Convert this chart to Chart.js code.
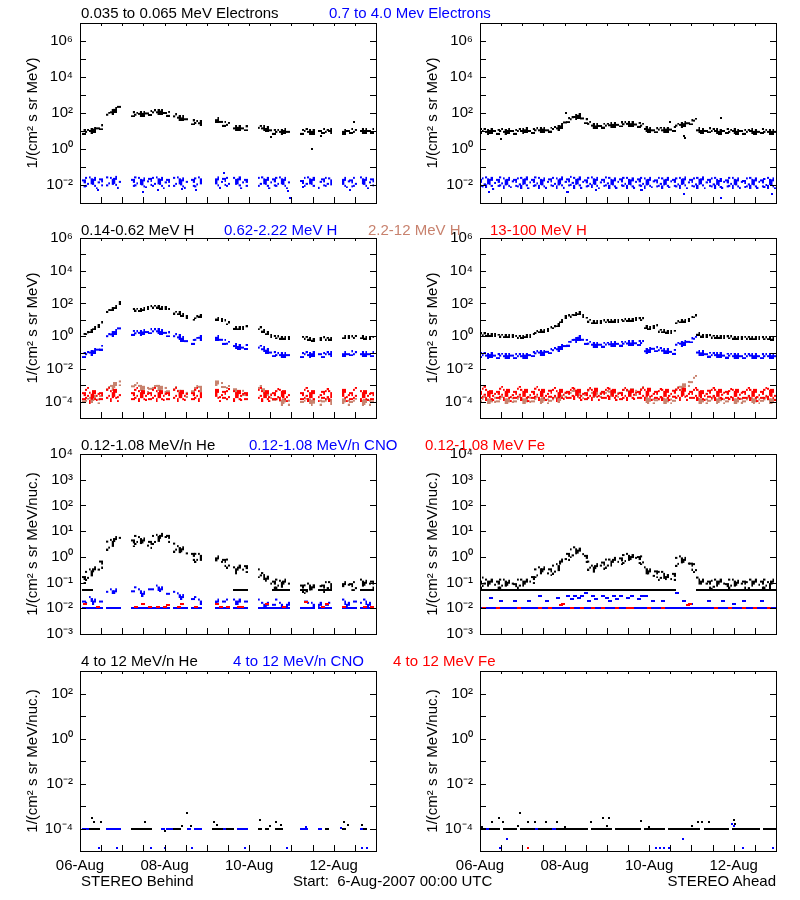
<!DOCTYPE html>
<html>
<head>
<meta charset="utf-8">
<script src="https://cdn.jsdelivr.net/npm/chart.js@4.4.1/dist/chart.umd.min.js"></script>
<style>
  body { margin: 0; background: #fff; }
  #page { position: relative; width: 800px; height: 900px; overflow: hidden; background: #fff; }
  canvas { position: absolute; }
  .lbl { position: absolute; font: 15px "Liberation Sans", Arial, sans-serif; line-height: 18px; white-space: pre; }
</style>
</head>
<body>
<div id="page">
  <canvas id="r0L" width="400" height="200" style="left:0;top:13px"></canvas>
  <canvas id="r0R" width="400" height="200" style="left:400px;top:13px"></canvas>
  <canvas id="r1L" width="400" height="200" style="left:0;top:228px"></canvas>
  <canvas id="r1R" width="400" height="200" style="left:400px;top:228px"></canvas>
  <canvas id="r2L" width="400" height="200" style="left:0;top:444px"></canvas>
  <canvas id="r2R" width="400" height="200" style="left:400px;top:444px"></canvas>
  <canvas id="r3L" width="400" height="225" style="left:0;top:661px"></canvas>
  <canvas id="r3R" width="400" height="225" style="left:400px;top:661px"></canvas>

  <div class="lbl" style="left:81px;top:4px;color:#000">0.035 to 0.065 MeV Electrons</div>
  <div class="lbl" style="left:329px;top:4px;color:#00f">0.7 to 4.0 Mev Electrons</div>
  <div class="lbl" style="left:81px;top:221px;color:#000">0.14-0.62 MeV H</div>
  <div class="lbl" style="left:224px;top:221px;color:#00f">0.62-2.22 MeV H</div>
  <div class="lbl" style="left:368px;top:221px;color:#c8826e">2.2-12 MeV H</div>
  <div class="lbl" style="left:490px;top:221px;color:#f00">13-100 MeV H</div>
  <div class="lbl" style="left:81px;top:436px;color:#000">0.12-1.08 MeV/n He</div>
  <div class="lbl" style="left:249px;top:436px;color:#00f">0.12-1.08 MeV/n CNO</div>
  <div class="lbl" style="left:425px;top:436px;color:#f00">0.12-1.08 MeV Fe</div>
  <div class="lbl" style="left:81px;top:652px;color:#000">4 to 12 MeV/n He</div>
  <div class="lbl" style="left:233px;top:652px;color:#00f">4 to 12 MeV/n CNO</div>
  <div class="lbl" style="left:393px;top:652px;color:#f00">4 to 12 MeV Fe</div>
  <div class="lbl" style="left:81px;top:872px;color:#000">STEREO Behind</div>
  <div class="lbl" style="left:293px;top:872px;color:#000">Start:  6-Aug-2007 00:00 UTC</div>
  <div class="lbl" style="right:24px;top:872px;color:#000">STEREO Ahead</div>
</div>
<script>
const _ = null;

// hours since 6-Aug-2007 00:00, 2 h steps
const HOURS = [0,2,4,6,8,10,12,14,16,18,20,22,24,26,28,30,32,34,36,38,40,42,44,46,48,50,52,54,56,58,60,62,64,66,68,70,72,74,76,78,80,82,84,86,88,90,92,94,96,98,100,102,104,106,108,110,112,114,116,118,120,122,124,126,128,130,132,134,136,138,140,142,144,146,148,150,152,154,156,158,160,162,164,166,168];
const X_TICKS = [0,12,24,36,48,60,72,84,96,108,120,132,144,156,168];
const X_LABELS = ['06-Aug','','','','08-Aug','','','','10-Aug','','','','12-Aug','',''];

const Y_TICKS_E = [1e-3,1e-2,1e-1,1,10,100,1e3,1e4,1e5,1e6,1e7];
const Y_TICKS_H = [1e-5,1e-4,1e-3,1e-2,1e-1,1,10,100,1e3,1e4,1e5,1e6];
const Y_TICKS_LO = [1e-3,1e-2,1e-1,1,10,100,1e3,1e4];
const Y_TICKS_HI = [1e-5,1e-4,1e-3,1e-2,1e-1,1,10,100,1e3];

// ---- electrons, STEREO Behind (data gaps as null)
const E_B_LO = [
  _, 9,9,10,12,14,16, _,
  80,110,150,220, _,_,_,
  85,80,90,90,95,100,110,110,120,100,90, _,
  65,55,50,45, _,
  30,28,27, _,_,_,_,
  40,32,25,22, _,
  14,15,14,14, _,_,_,
  15,14,13,11,
  9,9,9,10,9, _,_,_,
  9,10,9,9, _,
  10,10,9,10, _,_,_,
  9,10,10,9, _,
  10,10,10,10, _];
const E_B_HI = [
  _, .014,.015,.016,.015,.014,.016, _,
  .016,.015,.017,.015, _,_,_,
  .015,.016,.015,.014,.016,.017,.015,.016,.015,.014,.015, _,
  .015,.016,.014,.015, _,
  .015,.014,.016, _,_,_,_,
  .016,.015,.017,.015, _,
  .015,.016,.014,.015, _,_,_,
  .015,.016,.015,.014,
  .016,.015,.016,.015,.014, _,_,_,
  .013,.015,.016,.015, _,
  .015,.016,.015,.014, _,_,_,
  .015,.016,.014,.015, _,
  .016,.015,.014,.016, _];
const E_B_LO_OUT = [[108.6,4.5],[131.5,1],[137,5],[155.5,33]];
const E_B_HI_OUT = [[10,0.005],[36,0.004],[44,0.005],[58,0.006],[66,0.005],[82,0.045],[118,0.0045],[119,0.002],[153,0.005]];

// ---- electrons, STEREO Ahead
const E_A_LO = [10,10,9,10,10,9, 10,9,10,10,9,10, 10,11,10,10,11,11, 12,11,12,13,14,18, 30,40,45,60,70,50,
  35,25,20,18,19,20, 20,21,22,22,23,24, 25,24,23,22,20,13, 12,11,11,12,11,12, 12,13,20,22,24,27,
  30,38,11,10,10,11, 10,10,9,10,10,9, 10,9,10,9,9,10, 9,9,10,9,9,9, 9];
const E_A_HI = [.015,.014,.016,.015,.013,.015, .016,.014,.015,.016,.015,.014, .015,.016,.014,.015,.016,.015,
  .014,.015,.016,.015,.014,.016, .015,.016,.017,.015,.016,.015, .014,.015,.016,.015,.014,.015,
  .016,.015,.014,.015,.016,.015, .015,.014,.015,.016,.015,.014, .015,.016,.014,.015,.014,.015,
  .016,.015,.014,.015,.016,.014, .015,.014,.015,.016,.014,.015, .014,.015,.013,.015,.014,.015,
  .015,.014,.015,.013,.014,.015, .014,.015,.014,.013,.015,.014, .014];
const E_A_LO_OUT = [[11.8,3.5],[48.6,95],[108,32],[115.8,5],[116.2,4],[136.8,50]];
const E_A_HI_OUT = [[5,0.004],[49.3,0.004],[50,0.004],[66,0.005],[91.5,0.005],[92,0.005],[116,0.003],[136.8,0.002],[165.8,0.003]];

// ---- protons, STEREO Behind
const H_B_1 = [
  _, 1.2,1.5,2,3,4,6, _,
  35,45,60,100, _,_,_,
  40,42,40,45,50,60,65,65,55,50,40, _,
  28,25,20,15, _,
  9,14,18, _,_,_,_,
  12,10,8,6, _,
  3.2,3,3,3.5, _,_,_,
  3,2.2,1.5,1.1,
  .9,.85,.8,.8,.8, _,_,_,
  .8,.8,.7,.6, _,
  .7,.75,.7,.7, _,_,_,
  .85,.9,.85,.9, _,
  .85,.8,.8,.8, _];
const H_B_2 = [
  _, .07,.08,.1,.12,.15,.2, _,
  1,1.3,1.8,3, _,_,_,
  1.6,1.5,1.6,1.7,1.8,2,2,2,1.8,1.6,1.3, _,
  1,.85,.7,.5, _,
  .45,.6,.8, _,_,_,_,
  .8,.6,.45,.35, _,
  .25,.22,.2,.22, _,_,_,
  .2,.16,.13,.1,
  .08,.07,.07,.07,.07, _,_,_,
  .07,.08,.07,.08, _,
  .08,.07,.08,.08, _,_,_,
  .08,.08,.09,.08, _,
  .08,.08,.08,.08, _];
const H_B_3 = [
  _, 1.2e-4,1e-4,1.5e-4,2e-4,1.2e-4,2.5e-4, _,
  5e-4,8e-4,1.2e-3,1.5e-3, _,_,_,
  1e-3,9e-4,8e-4,7e-4,6e-4,7e-4,6e-4,8e-4,7e-4,6e-4,5e-4, _,
  5e-4,4e-4,4e-4,3e-4, _,
  5e-4,6e-4,7e-4, _,_,_,_,
  1.5e-3,1.2e-3,9e-4,6e-4, _,
  5e-4,4e-4,4e-4,3e-4, _,_,_,
  6e-4,5e-4,3e-4,2.5e-4,
  1.5e-4,1.2e-4,1e-4,1.2e-4,1e-4, _,_,_,
  1.1e-4,1e-4,1.2e-4,1e-4, _,
  1e-4,1.2e-4,1e-4,1.1e-4, _,_,_,
  1.2e-4,1e-4,1.1e-4,1e-4, _,
  1e-4,1.1e-4,1e-4,1.2e-4, _];
const H_B_4 = [
  _, 2.5e-4,3e-4,2e-4,2.5e-4,3e-4,2.5e-4, _,
  3e-4,2.5e-4,3e-4,2.5e-4, _,_,_,
  2.5e-4,3e-4,2.5e-4,2.5e-4,3e-4,2.5e-4,3e-4,2.5e-4,2.5e-4,3e-4,2.5e-4, _,
  3e-4,2.5e-4,2.5e-4,3e-4, _,
  2.5e-4,3e-4,2.5e-4, _,_,_,_,
  3e-4,2.5e-4,3e-4,2.5e-4, _,
  2.5e-4,2.5e-4,3e-4,2.5e-4, _,_,_,
  3e-4,2.5e-4,2.5e-4,2.5e-4,
  2.5e-4,2.5e-4,3e-4,2.5e-4,2.5e-4, _,_,_,
  2.5e-4,3e-4,2.5e-4,2.5e-4, _,
  2.5e-4,3e-4,2.5e-4,2.5e-4, _,_,_,
  3e-4,2.5e-4,2.5e-4,3e-4, _,
  2.5e-4,2.5e-4,3e-4,2.5e-4, _];

// ---- protons, STEREO Ahead
const H_A_1 = [1.3,1.3,1.2,1.2,1.2,1.1, 1.1,1.0,1.0,1.1,.9,.9, .9,1.0,1.1,1.2,1.8,2, 2.2,2.5,3,3.5,4.5,8,
  14,16,18,22,25,18, 12,9,7,7,7.5,8, 8,8.5,9,9,9,9.5, 10,10,10.5,11,11,3.5, 3,3.5,4,2.2,2,1.9,
  1.9,1.9,7,8,9,10, 13,16,1.4,1.1,1.0,1.0, .95,.9,.9,.9,.85,.85, .8,.8,.8,.8,.8,.8, .75,.75,.75,.75,.75,.7, .7];
const H_A_2 = [.07,.07,.065,.07,.065,.06, .065,.06,.06,.065,.06,.06, .06,.065,.07,.08,.09,.1, .1,.11,.12,.14,.16,.22,
  .25,.35,.45,.6,.8,.6, .45,.35,.3,.3,.3,.3, .31,.32,.33,.34,.35,.35, .36,.36,.37,.38,.38,.12,
  .14,.17,.16,.14,.13,.12, .11,.11,.3,.35,.4,.45, .55,.7,.1,.09,.08,.075, .07,.07,.07,.065,.065,.065,
  .06,.065,.06,.06,.06,.065, .06,.06,.06,.06,.06,.06, .06];
const H_A_3 = [1.2e-4,1.3e-4,1.2e-4,1.2e-4,1.5e-4,1.2e-4, 1.3e-4,1.2e-4,1.2e-4,1.4e-4,1.2e-4,1.3e-4,
  1.2e-4,1.2e-4,1.5e-4,1.2e-4,1.3e-4,1.2e-4, 1.4e-4,1.2e-4,1.3e-4,1.2e-4,1.5e-4,2e-4,
  3e-4,4e-4,3e-4,4e-4,3e-4,2.5e-4, 3e-4,4e-4,3e-4,3.5e-4,3e-4,4e-4, 3e-4,3.5e-4,4e-4,3e-4,4e-4,4.5e-4,
  4e-4,5e-4,4e-4,4.5e-4,5e-4,1.5e-4, 1.3e-4,1.2e-4,1.4e-4,1.2e-4,1.3e-4,1.2e-4,
  1.2e-4,1.3e-4,5e-4,7e-4,1e-3,1.4e-3, 1.8e-3,2.5e-3,1.3e-4,1.2e-4,1.2e-4,1.3e-4,
  1.2e-4,1.2e-4,1.4e-4,1.2e-4,1.2e-4,1.3e-4, 1.2e-4,1.2e-4,1.3e-4,1.2e-4,1.2e-4,1.4e-4,
  1.2e-4,1.2e-4,1.3e-4,1.2e-4,1.2e-4,1.2e-4, 1.2e-4];
const H_A_4 = [3e-4,3.5e-4,3e-4,2.5e-4,3e-4,3e-4, 3.5e-4,3e-4,3e-4,2.5e-4,3e-4,3.5e-4, 3e-4,3e-4,2.5e-4,3e-4,3.5e-4,3e-4,
  3e-4,3e-4,3.5e-4,3e-4,2.5e-4,3e-4, 3.5e-4,3e-4,3e-4,3.5e-4,3e-4,3e-4, 2.5e-4,3e-4,3e-4,3.5e-4,3e-4,3e-4,
  3e-4,3.5e-4,3e-4,3e-4,2.5e-4,3e-4, 3e-4,3e-4,3.5e-4,3e-4,3e-4,3e-4, 3.5e-4,3e-4,3e-4,2.5e-4,3e-4,3e-4,
  3e-4,3.5e-4,3e-4,3e-4,3.5e-4,3e-4, 3e-4,3e-4,3e-4,2.5e-4,3e-4,3.5e-4, 3e-4,3e-4,3e-4,3.5e-4,3e-4,2.5e-4,
  3e-4,3e-4,3.5e-4,3e-4,3e-4,3e-4, 3e-4,2.5e-4,3e-4,3e-4,3.5e-4,3e-4, 3e-4];

// ---- 0.12-1.08 MeV/n heavy ions, STEREO Behind
const HE_B = [
  _, .15,.2,.25,.3,.35,.6, _,
  3,3.5,4.5,6, _,_,_,
  4,5,4.5,4,3,3.5,5,5.5,6,6.5,6, _,
  2.5,2,1.8,1.5, _,
  1.2,1,1, _,_,_,_,
  .8,.7,.7,.6, _,
  .3,.35,.35,.4, _,_,_,
  .25,.18,.13,.1,
  .1,.1,.09,.1,.1, _,_,_,
  .07,.06,.07,.06, _,
  .08,.07,.08,.08, _,_,_,
  .08,.09,.08,.08, _,
  .1,.09,.1,.1, _];
const HE_B_FLOOR = [
  _, .05,.05,.05,_,_,_, _,
  _,_,_,_, _,_,_,
  _,_,_,_,_,_,_,_,_,_,_, _,
  _,_,_,_, _,
  _,_,_, _,_,_,_,
  _,_,_,_, _,
  .05,.05,.05,.05, _,_,_,
  _,_,_,_,
  .05,.05,.05,.05,.05, _,_,_,
  .05,.05,_,_, _,
  .05,.05,.05,.05, _,_,_,
  _,_,_,_, _,
  .05,.05,.05,.05, _];
const CNO_B = [
  _, .02,.015,.025,.02,.03,.02, _,
  .04,.05,.05,.06, _,_,_,
  .05,.06,.05,.04,.05,.06,.05,.07,.06,.05,.04, _,
  .04,.035,.03,.035, _,
  .025,.025,.02, _,_,_,_,
  .02,.025,.02,.02, _,
  .02,.02,.025,.02, _,_,_,
  .02,.015,.015,.02,
  .015,.02,.015,_,.015, _,_,_,
  .015,.02,.015,.015, _,
  .015,.02,.015,.015, _,_,_,
  .02,.015,.015,.02, _,
  .015,.02,.015,.015, _];
const CNO_B_FLOOR = [
  _, .01,.01,.01,.01,.01,.01, _,
  .01,.01,.01,.01, _,_,_,
  .01,.01,.01,.01,.01,.01,.01,.01,.01,.01,.01, _,
  .01,.01,.01,.01, _,
  .01,.01,.01, _,_,_,_,
  .01,.01,.01,.01, _,
  .01,.01,.01,.01, _,_,_,
  .01,.01,.01,.01,
  .01,.01,.01,.01,.01, _,_,_,
  .01,.01,.01,.01, _,
  .01,.01,.01,.01, _,_,_,
  .01,.01,.01,.01, _,
  .01,.01,.01,.01, _];
const FE_B = [[3,0.015],[10,0.011],[32,0.011],[36,0.015],[40,0.011],[44,0.011],[48,0.011],[50,0.013],[56,0.011],[58,0.015],
  [66,0.011],[78,0.015],[80,0.011],[84,0.011],[90,0.011],[92,0.011],[106,0.015],[116,0.011],[128,0.018],[138,0.011],
  [140,0.015],[150,0.011],[162,0.011],[166,0.011]];

// ---- 0.12-1.08 MeV/n heavy ions, STEREO Ahead
const HE_A = [.1,.12,.1,.1,.09,.1, .1,.1,.09,.1,.08,.1, .1,.1,.12,.15,.25,.3, .3,.25,.3,.35,.4,.6,
  .9,1.2,1.5,1.8,1.6,1.4, 1,.5,.35,.4,.5,.55, .6,.6,.7,.7,.8,.9, 1,.9,1,.9,.8,.3,
  .25,.2,.25,.2,.2,.15, .15,.2,.7,.8,.7,.6, .5,.4,.12,.1,.1,.1, .09,.1,.1,.1,.08,.1,
  .1,.09,.1,.1,.08,.1, .1,.09,.1,.1,.08,.1, .09];
const HE_A_FLOOR = [.05,.05,.05,.05,.05,.05, .05,.05,.05,.05,.05,.05, .05,.05,.05,.05,.05,.05, .05,.05,.05,.05,.05,.05,
  .05,.05,.05,.05,.05,.05, .05,.05,.05,.05,.05,.05, .05,.05,.05,.05,.05,.05, .05,.05,.05,.05,.05,.05,
  .05,.05,.05,.05,.05,.05, .05,.05,_,_,_,_, _,_,.05,.05,.05,.05, .05,.05,.05,.05,.05,.05,
  .05,.05,.05,.05,.05,.05, .05,.05,.05,.05,.05,.05, .05];
const CNO_A_FLOOR = [.01,.01,.01,.01,.01,.01, .01,.01,.01,.01,.01,.01, .01,.01,.01,.01,.01,.01, .01,.01,.01,.01,.01,.01,
  .01,.01,.01,.01,.01,.01, .01,.01,.01,.01,.01,.01, .01,.01,.01,.01,.01,.01, .01,.01,.01,.01,.01,.01,
  .01,.01,.01,.01,.01,.01, .01,.01,.01,.01,.01,.01, .01,.01,.01,.01,.01,.01, .01,.01,.01,.01,.01,.01,
  .01,.01,.01,.01,.01,.01, .01,.01,.01,.01,.01,.01, .01];
const CNO_A = [[6,0.025],[12,0.02],[20,0.02],[28,0.02],[34,0.03],[38,0.02],[44,0.025],[48,0.05],[50,0.03],[52,0.022],
  [54,0.03],[56,0.025],[58,0.03],[60,0.04],[62,0.02],[64,0.03],[66,0.022],[70,0.03],[72,0.025],[74,0.02],[76,0.03],
  [78,0.022],[80,0.03],[82,0.05],[84,0.025],[86,0.03],[88,0.05],[90,0.022],[92,0.03],[94,0.03],[98,0.02],[104,0.02],
  [112,0.04],[116,0.02],[120,0.015],[130,0.02],[138,0.02],[144,0.015],[150,0.02],[160,0.02],[166,0.05]];
const FE_A = [[2,0.01],[10,0.01],[22,0.01],[34,0.01],[40,0.01],[46,0.013],[47,0.015],[52,0.01],[58,0.01],[64,0.01],
  [70,0.01],[78,0.01],[84,0.01],[86,0.01],[96,0.01],[104,0.01],[118,0.013],[119,0.015],[134,0.01],[142,0.01],
  [150,0.01],[156,0.01],[164,0.01]];

// ---- 4-12 MeV/n heavy ions
const HE4_B = [[6,1e-4],[8,1e-4],[10,1e-4],[30,1e-4],[32,1e-4],[34,1e-4],[36,1e-4],[38,1e-4],[40,1e-4],[54,1e-4],
  [56,1e-4],[76,1e-4],[78,1e-4],[80,1e-4],[84,1e-4],[86,1e-4],[102,1e-4],[106,1e-4],[112,1e-4],[114,1e-4],
  [140,1e-4],[150,1e-4],[162,1e-4],
  [6.6,3e-4],[8,2e-4],[12,2e-4],[37,2e-4],[48,8e-5],[58,1.3e-4],[61,5e-4],[63,1.3e-4],[76,2e-4],[78,1.5e-4],
  [102,2.5e-4],[108,1.3e-4],[111,2e-4],[114,1.5e-4],[150,2e-4],[152,1.5e-4],[160,1.4e-4]];
const CNO4_B = [[2,1e-4],[4,1e-4],[16,1e-4],[18,1e-4],[20,1e-4],[22,1e-4],[47,1e-4],[50,1e-4],[52,1e-4],[62,1e-4],
  [66,1e-4],[68,1e-4],[80,1e-4],[82,1e-4],[90,1e-4],[92,1e-4],[94,1e-4],[126,1e-4],[128,1e-4],[136,1e-4],[140,1e-4],
  [150,1e-4],[160,1e-4],[162,1e-4],[128,1.2e-4],[148,1.1e-4],
  [11,1.3e-5],[20.8,1.3e-5],[40.1,1.3e-5],[48.2,1.3e-5],[63.4,1.3e-5],[93.6,1.3e-5],[117.7,1.3e-5],[159.8,1.3e-5],[162.7,1.3e-5]];
const FE4_B = [];
const HE4_A_FLOOR = [1e-4,1e-4,_,1e-4,1e-4,1e-4, _,1e-4,1e-4,1e-4,1e-4,_, 1e-4,1e-4,1e-4,1e-4,_,1e-4,
  1e-4,1e-4,1e-4,_,1e-4,1e-4, 1e-4,1e-4,1e-4,1e-4,1e-4,1e-4, 1e-4,_,1e-4,1e-4,1e-4,1e-4,
  1e-4,1e-4,_,1e-4,1e-4,1e-4, 1e-4,1e-4,1e-4,1e-4,_,1e-4, 1e-4,1e-4,1e-4,1e-4,1e-4,_,
  1e-4,1e-4,1e-4,1e-4,1e-4,1e-4, 1e-4,1e-4,1e-4,_,1e-4,1e-4, 1e-4,1e-4,1e-4,1e-4,1e-4,_,
  1e-4,1e-4,1e-4,1e-4,1e-4,1e-4, 1e-4,1e-4,_,1e-4,1e-4,1e-4, 1e-4];
const HE4_A = [[1,1.2e-4],[6.6,2e-4],[11,3e-4],[13,2e-4],[21.7,1.3e-4],[22.7,5e-4],[27.4,2e-4],[31,2e-4],[37.5,2e-4],
  [43.9,2e-4],[48.5,1.2e-4],[63,2e-4],[70,3e-4],[73,3e-4],[72,1.3e-4],[91.3,2.2e-4],[96,1.2e-4],[120.5,1.3e-4],
  [124,2e-4],[126,2e-4],[130,2e-4],[144,2.3e-4],[145,1.6e-4]];
const CNO4_A = [[2,1e-4],[4,1e-4],[8,1e-4],[10,1e-4],[28,1e-4],[30,1e-4],[32,1e-4],[34,1e-4],[36,1e-4],[38,1e-4],
  [42,1e-4],[64,1e-4],[66,1e-4],[68,1e-4],[78,1e-4],[80,1e-4],[82,1e-4],[84,1e-4],[102,1e-4],[104,1e-4],[112,1e-4],
  [114,1e-4],[136,1e-4],[138,1e-4],[140,1e-4],[150,1e-4],[152,1e-4],[154,1e-4],[156,1e-4],[158,1e-4],
  [15.5,3.3e-5],[115,3.3e-5],[11.4,1.3e-5],[100,1.3e-5],[102.3,1.3e-5],[104.7,1.3e-5],[107,1.3e-5],
  [149.4,1.3e-5],[166.4,1.3e-5],[143,1.6e-4],[144,1.3e-4]];
const FE4_A = [[27.4,1.3e-5]];

const BLACK = '#000000', BLUE = '#0000ff', RED = '#ff0000', BROWN = '#c8826e';
const FONT = { family: '"Liberation Sans", Arial, sans-serif', size: 15 };

// speckled marker so each sample looks like the dense dot cloud of the original plot
function speckle(color, cols, rows, fill, seed) {
  const c = document.createElement('canvas');
  c.width = cols * 2;
  c.height = rows * 2;
  const g = c.getContext('2d');
  g.fillStyle = color;
  const mid = (rows - 1) / 2;
  for (let r = 0; r < rows; r++) {
    const edge = mid > 0 ? Math.abs(r - mid) / mid : 0;
    const f = fill * (1 - 0.5 * edge);
    for (let k = 0; k < cols; k++) {
      let h = Math.imul(r * 31 + k * 17 + seed * 101 + 7, 2654435761);
      h ^= h >>> 15; h = Math.imul(h, 2246822519); h ^= h >>> 13;
      if (((h >>> 0) % 1000) / 1000 < f) g.fillRect(k * 2, r * 2, 2, 2);
    }
  }
  return c;
}
const mk = (color, cols, rows, fill) => [1, 2, 3, 4, 5].map(s => speckle(color, cols, rows, fill, s));
const dot = color => [speckle(color, 1, 1, 1, 0)];
const dash = color => [speckle(color, 2, 1, 1, 0)];

function setOf(data, color, marker) {
  return {
    data, showLine: false, pointRadius: 2, pointHoverRadius: 2, clip: 0,
    backgroundColor: color, borderColor: color,
    pointStyle: typeof marker === 'function' ? marker : (c => marker[c.dataIndex % marker.length])
  };
}
function gridSet(vals, color, marker) {
  if (vals.length !== HOURS.length) console.error('length mismatch', vals.length);
  const data = [];
  vals.forEach((v, i) => { if (v !== null) data.push({ x: HOURS[i], y: v }); });
  return setOf(data, color, marker);
}
function pairSet(list, color, marker) {
  return setOf(list.map(p => ({ x: p[0], y: p[1] })), color, marker);
}
function floorOrDot(color) {
  const d = dash(color)[0], p = dot(color)[0];
  return c => (c.raw && c.raw.y === 1e-4 ? d : p);
}

const SUP = { '0': '⁰', '1': '¹', '2': '²', '3': '³', '4': '⁴', '5': '⁵', '6': '⁶', '7': '⁷', '8': '⁸', '9': '⁹', '-': '⁻' };
function powLabel(v, every) {
  const e = Math.round(Math.log10(v));
  if (e % every !== 0) return '';
  return '10' + String(e).split('').map(ch => SUP[ch]).join('');
}

const framePlugin = {
  id: 'frame',
  afterDraw(chart) {
    const { ctx, chartArea: a, scales: { x, y } } = chart;
    ctx.save();
    ctx.strokeStyle = '#000';
    ctx.lineWidth = 1;
    ctx.strokeRect(a.left + 0.5, a.top + 0.5, a.right - a.left, a.bottom - a.top);
    ctx.beginPath();
    y.ticks.forEach(t => {
      const py = Math.round(y.getPixelForValue(t.value)) + 0.5;
      ctx.moveTo(a.left, py); ctx.lineTo(a.left + 6, py);
      ctx.moveTo(a.right, py); ctx.lineTo(a.right - 6, py);
    });
    x.ticks.forEach(t => {
      const px = Math.round(x.getPixelForValue(t.value)) + 0.5;
      ctx.moveTo(px, a.bottom); ctx.lineTo(px, a.bottom - 6);
      ctx.moveTo(px, a.top); ctx.lineTo(px, a.top + 3);
    });
    ctx.stroke();
    ctx.restore();
  }
};

function makeChart(id, axis, datasets, showX) {
  new Chart(document.getElementById(id), {
    type: 'scatter',
    data: { datasets },
    options: {
      responsive: false,
      animation: false,
      events: [],
      layout: { padding: { top: 10, right: 24, left: 0, bottom: 0 } },
      plugins: { legend: { display: false }, tooltip: { enabled: false } },
      scales: {
        x: {
          type: 'linear', min: 0, max: 168,
          grid: { display: false, drawTicks: false }, border: { display: false },
          afterBuildTicks: s => { s.ticks = X_TICKS.map(v => ({ value: v })); },
          afterFit: s => { s.height = showX ? 35 : 10; s.paddingLeft = 0; s.paddingRight = 0; },
          ticks: {
            display: showX, maxRotation: 0, autoSkip: false, padding: 6, color: '#000', font: FONT,
            callback: v => X_LABELS[X_TICKS.indexOf(v)]
          }
        },
        y: {
          type: 'logarithmic', min: axis.ticks[0], max: axis.ticks[axis.ticks.length - 1],
          grid: { display: false, drawTicks: false }, border: { display: false },
          afterBuildTicks: s => { s.ticks = axis.ticks.map(v => ({ value: v })); },
          afterFit: s => { s.width = 80; s.paddingTop = 0; s.paddingBottom = 0; },
          ticks: { autoSkip: false, padding: 7, color: '#000', font: FONT, callback: v => powLabel(v, axis.every) },
          title: { display: true, text: axis.title, color: '#000', font: FONT, padding: { top: 24, bottom: 0 } }
        }
      }
    },
    plugins: [framePlugin]
  });
}

const AX_E = { ticks: Y_TICKS_E, every: 2, title: '1/(cm² s sr MeV)' };
const AX_H = { ticks: Y_TICKS_H, every: 2, title: '1/(cm² s sr MeV)' };
const AX_LO = { ticks: Y_TICKS_LO, every: 1, title: '1/(cm² s sr MeV/nuc.)' };
const AX_HI = { ticks: Y_TICKS_HI, every: 2, title: '1/(cm² s sr MeV/nuc.)' };

makeChart('r0L', AX_E, [
  gridSet(E_B_LO, BLACK, mk(BLACK, 2, 3, 0.9)),
  pairSet(E_B_LO_OUT, BLACK, dot(BLACK)),
  gridSet(E_B_HI, BLUE, mk(BLUE, 2, 7, 0.45)),
  pairSet(E_B_HI_OUT, BLUE, dot(BLUE))
], false);
makeChart('r0R', AX_E, [
  gridSet(E_A_LO, BLACK, mk(BLACK, 2, 3, 0.9)),
  pairSet(E_A_LO_OUT, BLACK, dot(BLACK)),
  gridSet(E_A_HI, BLUE, mk(BLUE, 2, 7, 0.5)),
  pairSet(E_A_HI_OUT, BLUE, dot(BLUE))
], false);

makeChart('r1L', AX_H, [
  gridSet(H_B_1, BLACK, mk(BLACK, 2, 2, 1)),
  gridSet(H_B_2, BLUE, mk(BLUE, 2, 3, 0.9)),
  gridSet(H_B_4, RED, mk(RED, 2, 7, 0.55)),
  gridSet(H_B_3, BROWN, mk(BROWN, 2, 4, 0.6))
], false);
makeChart('r1R', AX_H, [
  gridSet(H_A_1, BLACK, mk(BLACK, 2, 2, 1)),
  gridSet(H_A_2, BLUE, mk(BLUE, 2, 3, 0.9)),
  gridSet(H_A_4, RED, mk(RED, 2, 7, 0.55)),
  gridSet(H_A_3, BROWN, mk(BROWN, 2, 4, 0.6))
], false);

makeChart('r2L', AX_LO, [
  gridSet(HE_B, BLACK, mk(BLACK, 2, 6, 0.4)),
  gridSet(HE_B_FLOOR, BLACK, dash(BLACK)),
  pairSet(FE_B, RED, dash(RED)),
  gridSet(CNO_B, BLUE, mk(BLUE, 2, 4, 0.4)),
  gridSet(CNO_B_FLOOR, BLUE, dash(BLUE))
], false);
makeChart('r2R', AX_LO, [
  gridSet(HE_A, BLACK, mk(BLACK, 2, 6, 0.4)),
  gridSet(HE_A_FLOOR, BLACK, dash(BLACK)),
  pairSet(FE_A, RED, dash(RED)),
  pairSet(CNO_A, BLUE, dash(BLUE)),
  gridSet(CNO_A_FLOOR, BLUE, dash(BLUE))
], false);

makeChart('r3L', AX_HI, [
  pairSet(HE4_B, BLACK, floorOrDot(BLACK)),
  pairSet(CNO4_B, BLUE, floorOrDot(BLUE)),
  pairSet(FE4_B, RED, dot(RED))
], true);
makeChart('r3R', AX_HI, [
  pairSet(HE4_A, BLACK, dot(BLACK)),
  gridSet(HE4_A_FLOOR, BLACK, dash(BLACK)),
  pairSet(CNO4_A, BLUE, floorOrDot(BLUE)),
  pairSet(FE4_A, RED, dot(RED))
], true);
</script>
</body>
</html>
